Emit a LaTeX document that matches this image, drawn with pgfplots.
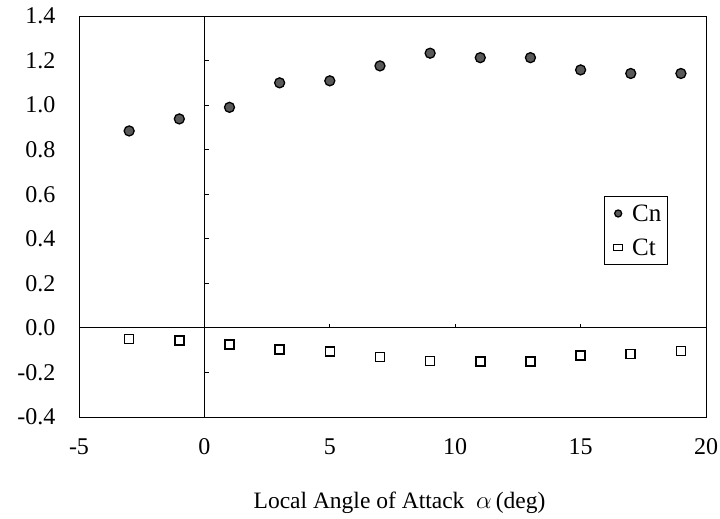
\documentclass[border=0pt]{standalone}
\usepackage{pgfplots}
\pgfplotsset{compat=1.18}
\usepackage{fontspec}
\setmainfont{Liberation Serif}

\definecolor{cnfill}{gray}{0.35}

\begin{document}
\begin{tikzpicture}
\begin{axis}[
  name=ax,
  scale only axis,
  width=627pt, height=401pt,
  xmin=-5, xmax=20, ymin=-0.4, ymax=1.4,
  xtick={-5,0,5,10,15,20},
  ytick={-0.4,-0.2,0,0.2,0.4,0.6,0.8,1.0,1.2,1.4},
  major tick length=0pt,
  axis line style={line width=0.9pt},
  /pgf/number format/assume math mode=true,
  tick label style={font=\fontsize{24}{28}\selectfont},
  yticklabel style={/pgf/number format/fixed,
    /pgf/number format/fixed zerofill,
    /pgf/number format/precision=1, xshift=-20pt},
  xticklabel style={yshift=-18pt},
  xlabel={Local Angle of Attack\ \ $\alpha$\,(deg)},
  xlabel style={font=\fontsize{23.5}{27}\selectfont,
    at={(axis description cs:0.5,0)}, anchor=base, yshift=-91pt, xshift=7pt},
  legend style={at={(0.939,0.551)}, anchor=north east,
    draw=black, line width=0.8pt, font=\fontsize{25}{28}\selectfont,
    inner xsep=4pt, inner ysep=6pt, row sep=12pt},
  legend cell align=left,
]
% inner axes through the origin
\draw[line width=0.9pt] (axis cs:0,-0.4) -- (axis cs:0,1.4);
\draw[line width=0.9pt] (axis cs:-5,0) -- (axis cs:20,0);
\pgfplotsinvokeforeach{-0.2,0.2,0.4,0.6,0.8,1.0,1.2}{
  \draw[line width=0.8pt] (axis cs:0,#1) -- ++(5pt,0pt);
}
\pgfplotsinvokeforeach{5,10,15}{
  \draw[line width=0.8pt] (axis cs:#1,0) -- ++(0pt,4pt);
}

\addplot[only marks, mark=*, mark size=5pt,
  mark options={fill=cnfill, draw=black, line width=1.3pt},
  legend image code/.code={
    \path[draw=none] (-10pt,0pt) -- (12pt,0pt);
    \draw[mark=*, mark size=3.5pt, fill=cnfill, draw=black, line width=1pt] plot coordinates {(0pt,0pt)};}]
  coordinates {
  (-3,0.884) (-1,0.938) (1,0.990) (3,1.100) (5,1.109) (7,1.176)
  (9,1.233) (11,1.213) (13,1.213) (15,1.158) (17,1.142) (19,1.142)
};
\addlegendentry{Cn}

\addplot[only marks, mark=square, mark size=4.5pt,
  mark options={draw=black, line width=1.6pt},
  legend image code/.code={
    \path[draw=none] (-10pt,0pt) -- (12pt,0pt);
    \draw[draw=black, line width=1.2pt] (-4.5pt,-3pt) rectangle (4.5pt,3pt);}]
  coordinates {
  (-3,-0.050) (-1,-0.057) (1,-0.075) (3,-0.096) (5,-0.106) (7,-0.130)
  (9,-0.148) (11,-0.152) (13,-0.150) (15,-0.124) (17,-0.118) (19,-0.103)
};
\addlegendentry{Ct}
\end{axis}
\pgfresetboundingbox
\path[use as bounding box] ([xshift=-79pt,yshift=-102pt]ax.south west)
  rectangle ([xshift=14pt,yshift=16pt]ax.north east);
\end{tikzpicture}
\end{document}
